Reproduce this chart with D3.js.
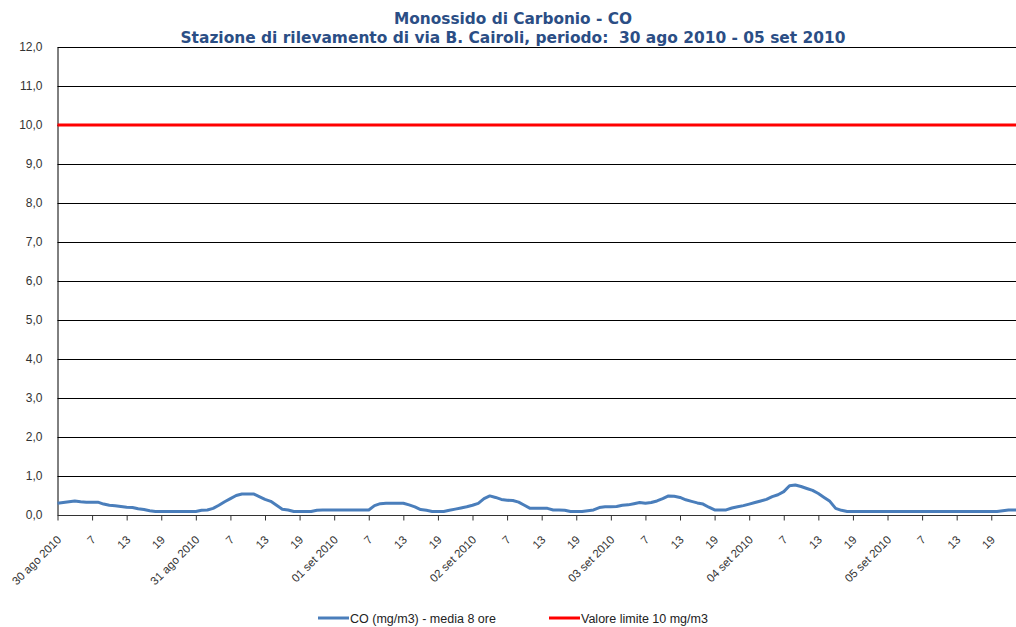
<!DOCTYPE html>
<html>
<head>
<meta charset="utf-8">
<script src="https://cdn.jsdelivr.net/npm/d3@7"></script>
<style>
  body { margin: 0; background: #fff; }
  svg { display: block; }
</style>
</head>
<body>
<script>
// hourly 8-hour moving average of CO, mg/m3, 30 ago 2010 h1 .. 05 set 2010 h24
var coValues = [
  0.30, 0.32, 0.34, 0.36, 0.34, 0.33, 0.33, 0.33, 0.28, 0.25, 0.24, 0.22,
  0.20, 0.19, 0.16, 0.14, 0.11, 0.09, 0.09, 0.09, 0.09, 0.09, 0.09, 0.09,
  0.09, 0.12, 0.13, 0.17, 0.25, 0.34, 0.42, 0.50, 0.54, 0.54, 0.54, 0.47,
  0.40, 0.35, 0.25, 0.15, 0.13, 0.09, 0.09, 0.09, 0.09, 0.12, 0.13, 0.13,
  0.13, 0.13, 0.13, 0.13, 0.13, 0.13, 0.13, 0.24, 0.29, 0.30, 0.30, 0.30,
  0.30, 0.26, 0.21, 0.14, 0.12, 0.09, 0.09, 0.09, 0.12, 0.15, 0.18, 0.21,
  0.25, 0.30, 0.42, 0.49, 0.45, 0.40, 0.38, 0.37, 0.33, 0.25, 0.17, 0.17,
  0.17, 0.17, 0.13, 0.13, 0.12, 0.09, 0.09, 0.09, 0.11, 0.13, 0.19, 0.21,
  0.21, 0.22, 0.25, 0.26, 0.29, 0.32, 0.30, 0.32, 0.36, 0.42, 0.49, 0.48,
  0.45, 0.39, 0.35, 0.31, 0.28, 0.20, 0.13, 0.13, 0.13, 0.18, 0.21, 0.24,
  0.28, 0.32, 0.36, 0.40, 0.47, 0.52, 0.60, 0.75, 0.77, 0.73, 0.68, 0.63,
  0.55, 0.45, 0.35, 0.17, 0.12, 0.09, 0.09, 0.09, 0.09, 0.09, 0.09, 0.09,
  0.09, 0.09, 0.09, 0.09, 0.09, 0.09, 0.09, 0.09, 0.09, 0.09, 0.09, 0.09,
  0.09, 0.09, 0.09, 0.09, 0.09, 0.09, 0.09, 0.09, 0.11, 0.13, 0.13, 0.13
];
var limitValue = 10;
var dayLabels = ["30 ago 2010", "31 ago 2010", "01 set 2010", "02 set 2010",
                 "03 set 2010", "04 set 2010", "05 set 2010"];
var hourLabels = ["7", "13", "19"];
var yTicks = [0, 1, 2, 3, 4, 5, 6, 7, 8, 9, 10, 11, 12];
var titleLines = ["Monossido di Carbonio - CO",
                  "Stazione di rilevamento di via B. Cairoli, periodo:  30 ago 2010 - 05 set 2010"];
var seriesNames = ["CO (mg/m3) - media 8 ore", "Valore limite 10 mg/m3"];

var W = 1016, H = 627;
var plotLeft = 57.5, plotTop = 47, plotBottom = 515;

var svg = d3.select("body").append("svg")
    .attr("width", W)
    .attr("height", H);

// category index -> x, last hour runs past the right edge like in the original
var x = d3.scalePoint()
    .domain(d3.range(coValues.length))
    .range([plotLeft, plotLeft + (coValues.length - 1) * 5.764]);
var y = d3.scaleLinear().domain([0, 12]).range([plotBottom, plotTop]);

// title
svg.append("g").selectAll("text")
    .data(titleLines)
    .join("text")
    .attr("x", 513)
    .attr("y", (d, i) => 24 + i * 19)
    .attr("text-anchor", "middle")
    .attr("font-family", "'DejaVu Sans Condensed', 'DejaVu Sans', sans-serif")
    .attr("font-weight", "bold")
    .attr("font-size", 15)
    .attr("fill", "#2B4E85")
    .attr("textLength", (d, i) => i == 0 ? 238 : 665)
    .attr("lengthAdjust", "spacingAndGlyphs")
    .style("white-space", "pre")
    .text(d => d);

// grid
svg.append("g").selectAll("line")
    .data(yTicks.filter(d => d > 0))
    .join("line")
    .attr("x1", plotLeft).attr("x2", W)
    .attr("y1", d => Math.round(y(d)) + 0.5)
    .attr("y2", d => Math.round(y(d)) + 0.5)
    .attr("stroke", "#000")
    .attr("stroke-width", 1);

// y axis
var yAxis = svg.append("g")
    .attr("transform", "translate(" + plotLeft + ",0)")
    .call(d3.axisLeft(y).tickValues(yTicks).tickSize(0).tickPadding(15)
        .tickFormat(d => d3.format(".1f")(d).replace(".", ",")));
yAxis.select(".domain").attr("stroke", "#000");
yAxis.selectAll("text")
    .attr("font-family", "Arial, 'Liberation Sans', sans-serif")
    .attr("font-size", 12)
    .attr("fill", "#333");

// x axis
var tickIdx = d3.range(0, coValues.length, 6);
var xAxis = svg.append("g")
    .attr("transform", "translate(0," + (plotBottom + 0.5) + ")")
    .call(d3.axisBottom(x).tickValues(tickIdx).tickSize(5).tickSizeOuter(0)
        .tickFormat(d => d % 24 == 0 ? dayLabels[d / 24] : hourLabels[(d % 24) / 6 - 1]));
xAxis.select(".domain").attr("stroke", "#333").attr("d", "M" + plotLeft + ",0H" + W);
xAxis.selectAll(".tick line").attr("stroke", "#333");
xAxis.selectAll("text")
    .attr("font-family", "Arial, 'Liberation Sans', sans-serif")
    .attr("font-size", 11.5)
    .attr("fill", "#333")
    .attr("text-anchor", "end")
    .attr("dy", 0)
    .attr("y", 0)
    .attr("transform", "translate(4,25) rotate(-45)");

// limit line
svg.append("line")
    .attr("x1", plotLeft).attr("x2", W)
    .attr("y1", y(limitValue)).attr("y2", y(limitValue))
    .attr("stroke", "#FF0000")
    .attr("stroke-width", 3);

// CO series
svg.append("path")
    .datum(coValues)
    .attr("fill", "none")
    .attr("stroke", "#4A7EBB")
    .attr("stroke-width", 3)
    .attr("stroke-linejoin", "round")
    .attr("d", d3.line().x((d, i) => x(i)).y(d => y(d)));

// legend
var legendColors = ["#4A7EBB", "#FF0000"];
var legendX = [318, 549];
var leg = svg.append("g").selectAll("g")
    .data(seriesNames)
    .join("g")
    .attr("transform", (d, i) => "translate(" + legendX[i] + ",618)");
leg.append("line")
    .attr("x1", 0).attr("x2", 31)
    .attr("stroke", (d, i) => legendColors[i])
    .attr("stroke-width", 3);
leg.append("text")
    .attr("x", 32)
    .attr("y", 4.5)
    .attr("font-family", "Arial, 'Liberation Sans', sans-serif")
    .attr("font-size", 12.5)
    .attr("fill", "#222")
    .text(d => d);
</script>
</body>
</html>
